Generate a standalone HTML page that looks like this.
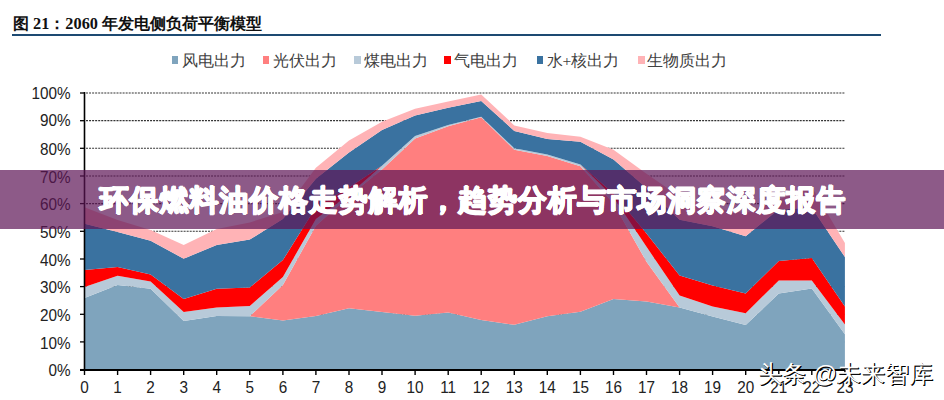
<!DOCTYPE html>
<html><head><meta charset="utf-8"><style>
html,body{margin:0;padding:0;background:#fff;}
body{width:944px;height:400px;position:relative;overflow:hidden;font-family:"Liberation Sans",sans-serif;}
.title{position:absolute;left:13px;top:13.2px;font-family:"Liberation Serif",serif;font-weight:bold;font-size:16.3px;color:#111;white-space:nowrap;}
.rule{position:absolute;left:12px;top:34px;width:869px;height:2px;background:#1d4a72;}
.lm{position:absolute;top:56.2px;width:6.6px;height:7.9px;margin-left:-0.4px;}
.lt{position:absolute;top:51px;font-size:15.6px;color:#404040;white-space:nowrap;font-family:"Liberation Serif",serif;}
.yl{position:absolute;right:873.5px;font-size:15.3px;color:#222;line-height:18px;transform:scaleY(1.1);}
.xl{position:absolute;top:379px;width:30px;text-align:center;font-size:15.3px;color:#222;line-height:18px;transform:scaleY(1.08);}
svg{position:absolute;left:0;top:0;}
.banner{position:absolute;left:0;top:170px;width:944px;height:58.5px;background:rgba(92,20,85,0.7);}
.btxt{position:absolute;left:1px;top:171px;width:944px;height:58px;line-height:58px;text-align:center;color:#fff;font-weight:bold;font-size:29px;letter-spacing:0.85px;white-space:nowrap;text-shadow:0.6px 0 0 #fff,-0.6px 0 0 #fff,0 0.6px 0 #fff,0 -0.6px 0 #fff,0.4px 0.4px 0 #fff,-0.4px -0.4px 0 #fff,0.4px -0.4px 0 #fff,-0.4px 0.4px 0 #fff;}
.wm{position:absolute;left:758px;top:357.5px;font-size:24px;color:#fff;white-space:nowrap;text-shadow:1px 1px 0 #000,0.6px 0.6px 0.6px #000;}
</style></head><body>
<div class="title">图 21：2060 年发电侧负荷平衡模型</div>
<div class="rule"></div>
<div class="lm" style="left:172px;background:#7fa4bd"></div><div class="lt" style="left:181.5px">风电出力</div><div class="lm" style="left:263px;background:#ff7f7f"></div><div class="lt" style="left:272.5px">光伏出力</div><div class="lm" style="left:354.5px;background:#b8cad9"></div><div class="lt" style="left:363.5px">煤电出力</div><div class="lm" style="left:444.5px;background:#ff0000"></div><div class="lt" style="left:454px">气电出力</div><div class="lm" style="left:537px;background:#3a72a0"></div><div class="lt" style="left:546.5px">水+核出力</div><div class="lm" style="left:638.5px;background:#ffb3b6"></div><div class="lt" style="left:647px">生物质出力</div>
<svg width="944" height="400" viewBox="0 0 944 400">
<line x1="86" y1="341.94" x2="845" y2="341.94" stroke="#333" stroke-width="1.1" stroke-dasharray="2,1.05"/><line x1="86" y1="314.28" x2="845" y2="314.28" stroke="#333" stroke-width="1.1" stroke-dasharray="2,1.05"/><line x1="86" y1="286.62" x2="845" y2="286.62" stroke="#333" stroke-width="1.1" stroke-dasharray="2,1.05"/><line x1="86" y1="258.96" x2="845" y2="258.96" stroke="#333" stroke-width="1.1" stroke-dasharray="2,1.05"/><line x1="86" y1="231.30" x2="845" y2="231.30" stroke="#333" stroke-width="1.1" stroke-dasharray="2,1.05"/><line x1="86" y1="203.64" x2="845" y2="203.64" stroke="#333" stroke-width="1.1" stroke-dasharray="2,1.05"/><line x1="86" y1="175.98" x2="845" y2="175.98" stroke="#333" stroke-width="1.1" stroke-dasharray="2,1.05"/><line x1="86" y1="148.32" x2="845" y2="148.32" stroke="#333" stroke-width="1.1" stroke-dasharray="2,1.05"/><line x1="86" y1="120.66" x2="845" y2="120.66" stroke="#333" stroke-width="1.1" stroke-dasharray="2,1.05"/><line x1="86" y1="93.00" x2="845" y2="93.00" stroke="#333" stroke-width="1.1" stroke-dasharray="2,1.05"/>
<polygon points="84.5,298.0 117.6,285.0 150.6,288.8 183.7,320.9 216.7,315.9 249.8,316.2 282.9,320.4 315.9,315.9 349.0,308.2 382.0,312.1 415.1,315.7 448.2,312.6 481.2,320.1 514.3,324.8 547.3,316.2 580.4,311.8 613.5,299.1 646.5,301.6 679.6,307.6 712.6,316.5 745.7,325.1 778.8,293.5 811.8,288.6 844.9,334.2 844.9,370.0 811.8,370.0 778.8,370.0 745.7,370.0 712.6,370.0 679.6,370.0 646.5,370.0 613.5,370.0 580.4,370.0 547.3,370.0 514.3,370.0 481.2,370.0 448.2,370.0 415.1,370.0 382.0,370.0 349.0,370.0 315.9,370.0 282.9,370.0 249.8,370.0 216.7,370.0 183.7,370.0 150.6,370.0 117.6,370.0 84.5,370.0" fill="#7fa4bd"/><polygon points="84.5,298.0 117.6,285.0 150.6,288.8 183.7,320.9 216.7,315.9 249.8,316.2 282.9,285.0 315.9,225.8 349.0,196.2 382.0,169.6 415.1,138.4 448.2,126.2 481.2,117.3 514.3,149.7 547.3,156.1 580.4,166.3 613.5,203.6 646.5,261.7 679.6,307.6 712.6,316.5 745.7,325.1 778.8,293.5 811.8,288.6 844.9,334.2 844.9,334.2 811.8,288.6 778.8,293.5 745.7,325.1 712.6,316.5 679.6,307.6 646.5,301.6 613.5,299.1 580.4,311.8 547.3,316.2 514.3,324.8 481.2,320.1 448.2,312.6 415.1,315.7 382.0,312.1 349.0,308.2 315.9,315.9 282.9,320.4 249.8,316.2 216.7,315.9 183.7,320.9 150.6,288.8 117.6,285.0 84.5,298.0" fill="#ff7f7f"/><polygon points="84.5,286.9 117.6,275.8 150.6,281.4 183.7,312.1 216.7,307.4 249.8,306.0 282.9,276.9 315.9,218.9 349.0,194.5 382.0,165.7 415.1,136.1 448.2,125.1 481.2,116.8 514.3,148.3 547.3,154.4 580.4,164.6 613.5,197.3 646.5,246.8 679.6,295.5 712.6,306.5 745.7,313.2 778.8,280.5 811.8,280.5 844.9,324.5 844.9,334.2 811.8,288.6 778.8,293.5 745.7,325.1 712.6,316.5 679.6,307.6 646.5,261.7 613.5,203.6 580.4,166.3 547.3,156.1 514.3,149.7 481.2,117.3 448.2,126.2 415.1,138.4 382.0,169.6 349.0,196.2 315.9,225.8 282.9,285.0 249.8,316.2 216.7,315.9 183.7,320.9 150.6,288.8 117.6,285.0 84.5,298.0" fill="#b8cad9"/><polygon points="84.5,270.0 117.6,267.0 150.6,274.4 183.7,299.1 216.7,288.8 249.8,287.4 282.9,260.1 315.9,207.2 349.0,187.6 382.0,165.7 415.1,136.1 448.2,125.1 481.2,116.8 514.3,148.3 547.3,154.4 580.4,164.4 613.5,193.4 646.5,233.5 679.6,275.6 712.6,285.5 745.7,293.5 778.8,260.9 811.8,257.9 844.9,306.5 844.9,324.5 811.8,280.5 778.8,280.5 745.7,313.2 712.6,306.5 679.6,295.5 646.5,246.8 613.5,197.3 580.4,164.6 547.3,154.4 514.3,148.3 481.2,116.8 448.2,125.1 415.1,136.1 382.0,165.7 349.0,194.5 315.9,218.9 282.9,276.9 249.8,306.0 216.7,307.4 183.7,312.1 150.6,281.4 117.6,275.8 84.5,286.9" fill="#ff0000"/><polygon points="84.5,223.8 117.6,231.9 150.6,240.7 183.7,258.7 216.7,244.9 249.8,239.6 282.9,218.9 315.9,178.7 349.0,152.5 382.0,130.1 415.1,115.4 448.2,107.7 481.2,101.0 514.3,130.9 547.3,138.9 580.4,141.7 613.5,159.4 646.5,187.9 679.6,219.7 712.6,226.3 745.7,236.3 778.8,209.2 811.8,207.8 844.9,257.0 844.9,306.5 811.8,257.9 778.8,260.9 745.7,293.5 712.6,285.5 679.6,275.6 646.5,233.5 613.5,193.4 580.4,164.4 547.3,154.4 514.3,148.3 481.2,116.8 448.2,125.1 415.1,136.1 382.0,165.7 349.0,187.6 315.9,207.2 282.9,260.1 249.8,287.4 216.7,288.8 183.7,299.1 150.6,274.4 117.6,267.0 84.5,270.0" fill="#3a72a0"/><polygon points="84.5,207.2 117.6,220.0 150.6,229.9 183.7,244.9 216.7,229.1 249.8,222.4 282.9,211.9 315.9,167.7 349.0,140.6 382.0,121.8 415.1,108.8 448.2,101.6 481.2,94.4 514.3,125.4 547.3,133.1 580.4,136.7 613.5,149.7 646.5,173.8 679.6,196.4 712.6,207.8 745.7,213.3 778.8,199.5 811.8,187.0 844.9,242.9 844.9,257.0 811.8,207.8 778.8,209.2 745.7,236.3 712.6,226.3 679.6,219.7 646.5,187.9 613.5,159.4 580.4,141.7 547.3,138.9 514.3,130.9 481.2,101.0 448.2,107.7 415.1,115.4 382.0,130.1 349.0,152.5 315.9,178.7 282.9,218.9 249.8,239.6 216.7,244.9 183.7,258.7 150.6,240.7 117.6,231.9 84.5,223.8" fill="#ffb3b6"/>
<line x1="84.5" y1="92" x2="84.5" y2="370" stroke="#000" stroke-width="1.6"/>
<line x1="80" y1="370" x2="845" y2="370" stroke="#000" stroke-width="2"/>
<line x1="80" y1="369.6" x2="85" y2="369.6" stroke="#000" stroke-width="1.3"/><line x1="80" y1="341.9" x2="85" y2="341.9" stroke="#000" stroke-width="1.3"/><line x1="80" y1="314.3" x2="85" y2="314.3" stroke="#000" stroke-width="1.3"/><line x1="80" y1="286.6" x2="85" y2="286.6" stroke="#000" stroke-width="1.3"/><line x1="80" y1="259.0" x2="85" y2="259.0" stroke="#000" stroke-width="1.3"/><line x1="80" y1="231.3" x2="85" y2="231.3" stroke="#000" stroke-width="1.3"/><line x1="80" y1="203.6" x2="85" y2="203.6" stroke="#000" stroke-width="1.3"/><line x1="80" y1="176.0" x2="85" y2="176.0" stroke="#000" stroke-width="1.3"/><line x1="80" y1="148.3" x2="85" y2="148.3" stroke="#000" stroke-width="1.3"/><line x1="80" y1="120.7" x2="85" y2="120.7" stroke="#000" stroke-width="1.3"/><line x1="80" y1="93.0" x2="85" y2="93.0" stroke="#000" stroke-width="1.3"/><line x1="84.5" y1="370" x2="84.5" y2="375" stroke="#000" stroke-width="1.4"/><line x1="117.6" y1="370" x2="117.6" y2="375" stroke="#000" stroke-width="1.4"/><line x1="150.6" y1="370" x2="150.6" y2="375" stroke="#000" stroke-width="1.4"/><line x1="183.7" y1="370" x2="183.7" y2="375" stroke="#000" stroke-width="1.4"/><line x1="216.7" y1="370" x2="216.7" y2="375" stroke="#000" stroke-width="1.4"/><line x1="249.8" y1="370" x2="249.8" y2="375" stroke="#000" stroke-width="1.4"/><line x1="282.9" y1="370" x2="282.9" y2="375" stroke="#000" stroke-width="1.4"/><line x1="315.9" y1="370" x2="315.9" y2="375" stroke="#000" stroke-width="1.4"/><line x1="349.0" y1="370" x2="349.0" y2="375" stroke="#000" stroke-width="1.4"/><line x1="382.0" y1="370" x2="382.0" y2="375" stroke="#000" stroke-width="1.4"/><line x1="415.1" y1="370" x2="415.1" y2="375" stroke="#000" stroke-width="1.4"/><line x1="448.2" y1="370" x2="448.2" y2="375" stroke="#000" stroke-width="1.4"/><line x1="481.2" y1="370" x2="481.2" y2="375" stroke="#000" stroke-width="1.4"/><line x1="514.3" y1="370" x2="514.3" y2="375" stroke="#000" stroke-width="1.4"/><line x1="547.3" y1="370" x2="547.3" y2="375" stroke="#000" stroke-width="1.4"/><line x1="580.4" y1="370" x2="580.4" y2="375" stroke="#000" stroke-width="1.4"/><line x1="613.5" y1="370" x2="613.5" y2="375" stroke="#000" stroke-width="1.4"/><line x1="646.5" y1="370" x2="646.5" y2="375" stroke="#000" stroke-width="1.4"/><line x1="679.6" y1="370" x2="679.6" y2="375" stroke="#000" stroke-width="1.4"/><line x1="712.6" y1="370" x2="712.6" y2="375" stroke="#000" stroke-width="1.4"/><line x1="745.7" y1="370" x2="745.7" y2="375" stroke="#000" stroke-width="1.4"/><line x1="778.8" y1="370" x2="778.8" y2="375" stroke="#000" stroke-width="1.4"/><line x1="811.8" y1="370" x2="811.8" y2="375" stroke="#000" stroke-width="1.4"/><line x1="844.9" y1="370" x2="844.9" y2="375" stroke="#000" stroke-width="1.4"/>
</svg>
<div class="yl" style="top:361.2px">0%</div><div class="yl" style="top:333.5px">10%</div><div class="yl" style="top:305.9px">20%</div><div class="yl" style="top:278.2px">30%</div><div class="yl" style="top:250.6px">40%</div><div class="yl" style="top:222.9px">50%</div><div class="yl" style="top:195.2px">60%</div><div class="yl" style="top:167.6px">70%</div><div class="yl" style="top:139.9px">80%</div><div class="yl" style="top:112.3px">90%</div><div class="yl" style="top:84.6px">100%</div>
<div class="xl" style="left:69.5px">0</div><div class="xl" style="left:102.6px">1</div><div class="xl" style="left:135.6px">2</div><div class="xl" style="left:168.7px">3</div><div class="xl" style="left:201.7px">4</div><div class="xl" style="left:234.8px">5</div><div class="xl" style="left:267.9px">6</div><div class="xl" style="left:300.9px">7</div><div class="xl" style="left:334.0px">8</div><div class="xl" style="left:367.0px">9</div><div class="xl" style="left:400.1px">10</div><div class="xl" style="left:433.2px">11</div><div class="xl" style="left:466.2px">12</div><div class="xl" style="left:499.3px">13</div><div class="xl" style="left:532.3px">14</div><div class="xl" style="left:565.4px">15</div><div class="xl" style="left:598.5px">16</div><div class="xl" style="left:631.5px">17</div><div class="xl" style="left:664.6px">18</div><div class="xl" style="left:697.6px">19</div><div class="xl" style="left:730.7px">20</div><div class="xl" style="left:763.8px">21</div><div class="xl" style="left:796.8px">22</div><div class="xl" style="left:829.9px">23</div>
<div class="banner"></div>
<div class="btxt">环保燃料油价格走势解析，趋势分析与市场洞察深度报告</div>
<div class="wm">头条 @未来智库</div>
</body></html>
